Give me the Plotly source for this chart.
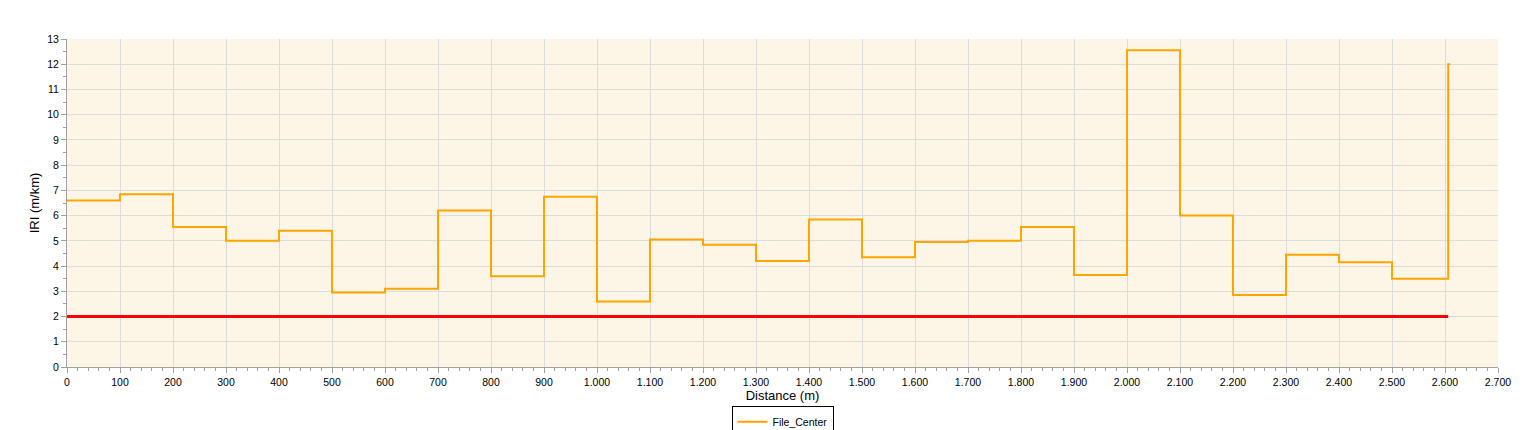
import plotly.graph_objects as go

# step start positions (m) and IRI levels (m/km)
distance = [0, 100, 200, 300, 400, 500, 600, 700, 800, 900, 1000, 1100, 1200,
            1300, 1400, 1500, 1600, 1700, 1800, 1900, 2000, 2100, 2200, 2300,
            2400, 2500, 2606, 2610]
iri = [6.6, 6.85, 5.55, 5.0, 5.4, 2.95, 3.1, 6.2, 3.6, 6.75, 2.6, 5.05, 4.85,
       4.2, 5.85, 4.35, 4.95, 5.0, 5.55, 3.65, 12.55, 6.0, 2.85, 4.45, 4.15,
       3.5, 12.0, 12.0]
limit_x = [0, 2606]
limit_y = [2, 2]

fig = go.Figure()
fig.add_trace(go.Scatter(x=limit_x, y=limit_y, mode="lines",
                         line=dict(color="#FF0000", width=3), showlegend=False,
                         hoverinfo="skip"))
fig.add_trace(go.Scatter(x=distance, y=iri, mode="lines", line_shape="hv",
                         line=dict(color="#FFA500", width=2), name="File_Center"))

axis_common = dict(showline=True, linecolor="#A0A0A0", gridcolor="#DCDCDC",
                   ticks="outside", tickcolor="#A0A0A0", ticklen=5,
                   zeroline=False, mirror=False, automargin=False)

fig.update_xaxes(range=[0, 2700], dtick=100, tickformat=",d",
                 minor=dict(dtick=20, ticks="outside", ticklen=3, tickcolor="#A0A0A0"),
                 title=dict(text="Distance (m)", standoff=2), **axis_common)
fig.update_yaxes(range=[0, 13], dtick=1,
                 minor=dict(dtick=0.5, ticks="outside", ticklen=3, tickcolor="#A0A0A0"),
                 title=dict(text="IRI (m/km)", standoff=4), **axis_common)

fig.update_layout(
    width=1526, height=430,
    separators=",.",
    plot_bgcolor="#FDF5E6", paper_bgcolor="white",
    font=dict(family="Liberation Sans, Arial", size=10.5, color="#000000"),
    margin=dict(l=59, r=36, t=31, b=71, autoexpand=False),
    legend=dict(orientation="h", x=0.5, xanchor="center", y=-0.12, yanchor="top",
                bordercolor="#000000", borderwidth=1, font=dict(size=10.5),
                tracegroupgap=0, itemwidth=30),
)

fig.write_html("out.html")
